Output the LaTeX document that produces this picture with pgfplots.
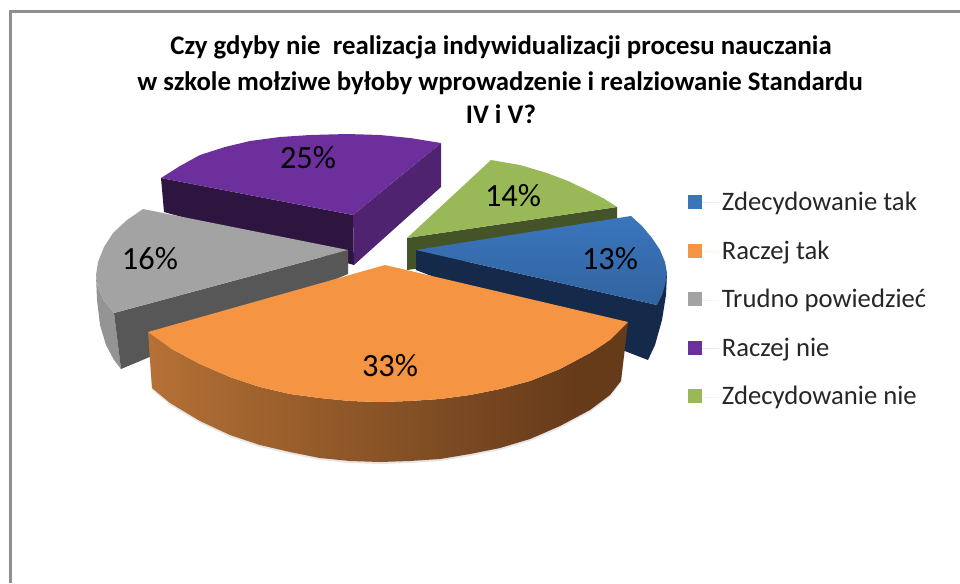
\documentclass[border=0pt]{standalone}
\usepackage{pgfplots}
\usepackage{pgfplotstable}
\usepackage{fontspec}
\setmainfont{Carlito}
\pgfplotsset{compat=1.18}

\definecolor{frame}{HTML}{8F8F8F}
\definecolor{cBlue}{HTML}{3A75BC}
\definecolor{cOrange}{HTML}{F59443}
\definecolor{cGray}{HTML}{A3A3A3}
\definecolor{cPurple}{HTML}{6D2F9C}
\definecolor{cGreen}{HTML}{99B958}
\definecolor{pFront}{HTML}{2E1540}
\definecolor{pRight}{HTML}{4F2370}
\definecolor{bFront}{HTML}{15294A}

\pgfdeclarehorizontalshading{orangeside}{100bp}{
  rgb(0bp)=(0.82,0.52,0.25);
  rgb(10bp)=(0.80,0.50,0.24);
  rgb(25bp)=(0.71,0.44,0.21);
  rgb(40bp)=(0.60,0.37,0.17);
  rgb(59bp)=(0.47,0.28,0.13);
  rgb(70bp)=(0.40,0.23,0.10);
  rgb(100bp)=(0.39,0.23,0.10)}

% slices in image pixels, y pointing down
\pgfplotstableread{
x y
148 332
170 348
200 364
230 377
260 387
290 394
320 398
350 401
380 402
410 401
440 399
470 395
500 389
530 381
560 369
590 353
610 340
628 322
621 381
610 395
590 410
560 426
530 439
500 448
470 454
440 459
410 461
380 462
350 461
320 458
290 452
260 445
230 435
200 421
170 403
152 388
}\orangeside

\pgfplotstableread{
x y
148 332
385 265
628 322
610 340
590 353
560 369
530 381
500 389
470 395
440 399
410 401
380 402
350 401
320 398
290 394
260 387
230 377
200 364
170 348
}\orangetop

\begin{document}
\begin{tikzpicture}
\useasboundingbox (0,0) rectangle (720pt,437.25pt);
\begin{axis}[
    at={(0,0)}, anchor=south west,
    scale only axis, width=720pt, height=437.25pt,
    xmin=0, xmax=960, ymin=0, ymax=583,
    y dir=reverse,
    hide axis, clip=false,
    legend style={
        at={(axis cs:688,189)}, anchor=north west,
        draw=none, fill=none,
        font=\fontsize{20pt}{22pt}\selectfont,
        text=black!85,
        row sep=17.1pt,
        inner sep=0pt,
    },
    legend cell align=left,
    legend image code/.code={
        \path[draw=none] (0pt,0pt) rectangle (23.2pt,0pt);
        \fill[draw=none,#1] (0pt,-5pt) rectangle (10.5pt,5.5pt);
    },
]
% frame, open on the right and at the bottom
\addplot[frame, line width=2.2pt, forget plot] coordinates {(10.5,583) (10.5,11.3) (960,11.3)};

% purple
\addplot[fill=pFront, draw=none, forget plot] coordinates {(161,178) (353,215) (354,265) (164,212)} --cycle;
\addplot[fill=pRight, draw=none, forget plot] coordinates {(353,215) (441,143) (441,187) (354,265)} --cycle;
\addplot[fill=cPurple, draw=none, forget plot] coordinates {(161,178) (180,166) (200,155) (225,147) (250,141) (280,137) (310,135) (347,134) (380,135) (410,138) (441,143) (353,215)} --cycle;

% gray
\addplot[fill=black!42, draw=none, forget plot] coordinates {(96,275) (97,300) (100,325) (106,345) (114,360) (121,369) (114,313) (104,301) (98,288)} --cycle;
\addplot[fill=black!66, draw=none, forget plot] coordinates {(114,313) (348,250) (348,274) (121,369)} --cycle;
\addplot[fill=cGray, draw=none, forget plot] coordinates {(143,209) (127,220) (113,233) (104,247) (98,262) (96,275) (98,288) (104,301) (114,313) (348,250)} --cycle;

% green
\addplot[fill=cGreen!45!black, draw=none, forget plot] coordinates {(407,238) (617,207) (617,240) (407,270)} --cycle;
\addplot[fill=cGreen, draw=none, forget plot] coordinates {(407,238) (491,160) (520,165) (547,173) (568,181) (587,190) (603,198) (617,207)} --cycle;

% blue
\addplot[fill=bFront, draw=none, forget plot] coordinates {(416,250) (657,305) (667,273) (666,295) (662,320) (655,345) (648,360) (416,270)} --cycle;
\addplot[top color=cBlue, bottom color=cBlue!85!black, draw=none, forget plot] coordinates {(416,250) (631,216) (642,226) (652,238) (660,250) (665,262) (667,273) (665,285) (662,295) (657,305)} --cycle;

% orange, with its soft shadow underneath
\addplot[fill=black, fill opacity=0.10, draw=none, forget plot, yshift=-1.5pt] table {\orangeside} --cycle;
\addplot[shading=orangeside, draw=none, forget plot] table {\orangeside} --cycle;
\addplot[fill=cOrange, draw=none, forget plot] table {\orangetop} --cycle;

\addlegendimage{fill=cBlue}
\addlegendentry{Zdecydowanie tak}
\addlegendimage{fill=cOrange}
\addlegendentry{Raczej tak}
\addlegendimage{fill=cGray}
\addlegendentry{Trudno powiedzieć}
\addlegendimage{fill=cPurple}
\addlegendentry{Raczej nie}
\addlegendimage{fill=cGreen}
\addlegendentry{Zdecydowanie nie}

% percentages
\node[font=\fontsize{24.3pt}{26pt}\selectfont] at (axis cs:308,158) {25\%};
\node[font=\fontsize{24.3pt}{26pt}\selectfont] at (axis cs:150,259) {16\%};
\node[font=\fontsize{24.3pt}{26pt}\selectfont] at (axis cs:513,196) {14\%};
\node[font=\fontsize{24.3pt}{26pt}\selectfont] at (axis cs:610,259) {13\%};
\node[font=\fontsize{24.3pt}{26pt}\selectfont] at (axis cs:390,366) {33\%};

% title
\node[font=\bfseries\fontsize{20.1pt}{22pt}\selectfont] at (axis cs:501,47) {Czy gdyby nie\ \ realizacja indywidualizacji procesu nauczania};
\node[font=\bfseries\fontsize{20.1pt}{22pt}\selectfont] at (axis cs:500,83) {w szkole mołziwe byłoby wprowadzenie i realziowanie Standardu};
\node[font=\bfseries\fontsize{20.1pt}{22pt}\selectfont] at (axis cs:501,114) {IV i V?};
\end{axis}
\end{tikzpicture}
\end{document}
